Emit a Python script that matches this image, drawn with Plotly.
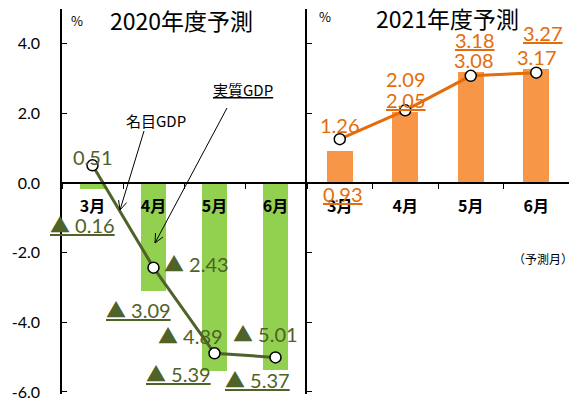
import math
import plotly.graph_objects as go

# 月次の予測値（%）
months = ["3月", "4月", "5月", "6月"]
nominal_2020 = [-0.16, -3.09, -5.39, -5.37]   # 名目GDP（棒）
real_2020 = [0.51, -2.43, -4.89, -5.01]       # 実質GDP（折れ線）
nominal_2021 = [0.93, 2.05, 3.18, 3.27]
real_2021 = [1.26, 2.09, 3.08, 3.17]
y_ticks = [-6, -4, -2, 0, 2, 4]

W, H = 584, 400
GREEN_BAR, GREEN_DARK = "#92D050", "#4F6228"
ORANGE_BAR, ORANGE_DARK = "#F79646", "#E46C0A"
NUM_FONT = "Lato, Noto Sans CJK JP, sans-serif"
JP_FONT = "Noto Sans CJK JP, sans-serif"


def px(x):
    return x / W


def py(y):
    return 1 - y / H


def fmt(v):
    if v < 0:
        return "▲\u00a0" + f"{abs(v):.2f}"
    return f"{v:.2f}"


fig = go.Figure()

for xa, ya, bars, line, bcol, lcol in [
    ("x", "y", nominal_2020, real_2020, GREEN_BAR, GREEN_DARK),
    ("x2", "y2", nominal_2021, real_2021, ORANGE_BAR, ORANGE_DARK),
]:
    fig.add_trace(go.Bar(x=months, y=bars, xaxis=xa, yaxis=ya, width=0.4,
                         marker=dict(color=bcol, line=dict(width=0)),
                         showlegend=False))
    fig.add_trace(go.Scatter(x=months, y=line, xaxis=xa, yaxis=ya,
                             mode="lines+markers",
                             line=dict(color=lcol, width=3),
                             marker=dict(size=11, color="white",
                                         line=dict(color="black", width=1.5)),
                             showlegend=False))

zero_pos = py(183)
common_x = dict(type="category", categoryorder="array", categoryarray=months,
                range=[-0.5, 3.5], anchor="free", position=zero_pos,
                showline=True, linecolor="black", linewidth=1.5,
                ticks="outside", ticklen=5, tickcolor="black",
                tickson="boundaries", showgrid=False, zeroline=False,
                tickfont=dict(family=JP_FONT, size=16, color="black", weight="bold"),
                ticklabelstandoff=9, fixedrange=True, automargin=False)
common_y = dict(range=[-6.06, 5], domain=[py(394), py(9)], tickvals=y_ticks,
                ticktext=[f"{v:.1f}" for v in y_ticks],
                showline=True, linecolor="black", linewidth=1.5,
                ticks="inside", ticklen=5, tickcolor="black",
                showgrid=False, zeroline=False, ticklabelstandoff=17,
                ticklabeloverflow="allow", automargin=False,
                tickfont=dict(family=NUM_FONT, size=16, color="black"))

fig.update_layout(
    width=W, height=H, margin=dict(l=0, r=0, t=0, b=0, autoexpand=False),
    paper_bgcolor="white", plot_bgcolor="rgba(0,0,0,0)",
    bargap=0,
    xaxis=dict(domain=[px(62), px(306)], **common_x),
    xaxis2=dict(domain=[px(307), px(569)], **common_x),
    yaxis=dict(anchor="x", **common_y),
    yaxis2=dict(anchor="x2", showticklabels=False, **common_y),
)

annotations = []


def label(text, x, y, size, color, family=NUM_FONT, underline=False):
    if underline:
        text = f"<u>{text}</u>"
    annotations.append(dict(text=text, x=px(x), y=py(y), xref="paper", yref="paper",
                            xanchor="center", yanchor="middle", showarrow=False,
                            font=dict(family=family, size=size, color=color)))


# 値ラベルの配置（ピクセル中心）
nominal_2020_pos = [(82, 225), (138, 310), (178, 374), (257, 380)]
real_2020_pos = [(93, 157), (196, 264), (190, 336), (265, 334)]
nominal_2021_pos = [(343, 194), (406, 100), (475, 40), (543, 33)]
real_2021_pos = [(340, 125), (406, 79), (474, 60), (537, 57)]

for vals, poses, col, ul in [
    (nominal_2020, nominal_2020_pos, GREEN_DARK, True),
    (real_2020, real_2020_pos, GREEN_DARK, False),
    (nominal_2021, nominal_2021_pos, ORANGE_DARK, True),
    (real_2021, real_2021_pos, ORANGE_DARK, False),
]:
    for v, (x, y) in zip(vals, poses):
        label(fmt(v), x, y, 20, col, underline=ul)

# 見出し・単位
label("2020年度予測", 181, 20, 23, "black", family=JP_FONT)
label("2021年度予測", 447, 18, 23, "black", family=JP_FONT)
label("%", 77, 20, 13, "black", family=JP_FONT)
label("%", 325, 17, 13, "black", family=JP_FONT)
label("（予測月）", 543, 258, 12, "black", family=JP_FONT)
label("名目GDP", 156, 120, 15, "black", family=JP_FONT)
label("実質GDP", 243, 89, 15, "black", family=JP_FONT, underline=True)

fig.update_layout(annotations=annotations)

# 凡例代わりの引き出し線（開いた矢じり付き）
shapes = []


def arrow(x0, y0, x1, y1, head=10, spread=math.radians(25)):
    shapes.append(dict(type="line", xref="paper", yref="paper",
                       x0=px(x0), y0=py(y0), x1=px(x1), y1=py(y1),
                       line=dict(color="black", width=1)))
    ang = math.atan2(y0 - y1, x0 - x1)
    for s in (-spread, spread):
        hx = x1 + head * math.cos(ang + s)
        hy = y1 + head * math.sin(ang + s)
        shapes.append(dict(type="line", xref="paper", yref="paper",
                           x0=px(x1), y0=py(y1), x1=px(hx), y1=py(hy),
                           line=dict(color="black", width=1)))


arrow(144, 131, 120, 210)
arrow(227, 108, 155, 243)
fig.update_layout(shapes=shapes)

fig.write_html("out.html")
